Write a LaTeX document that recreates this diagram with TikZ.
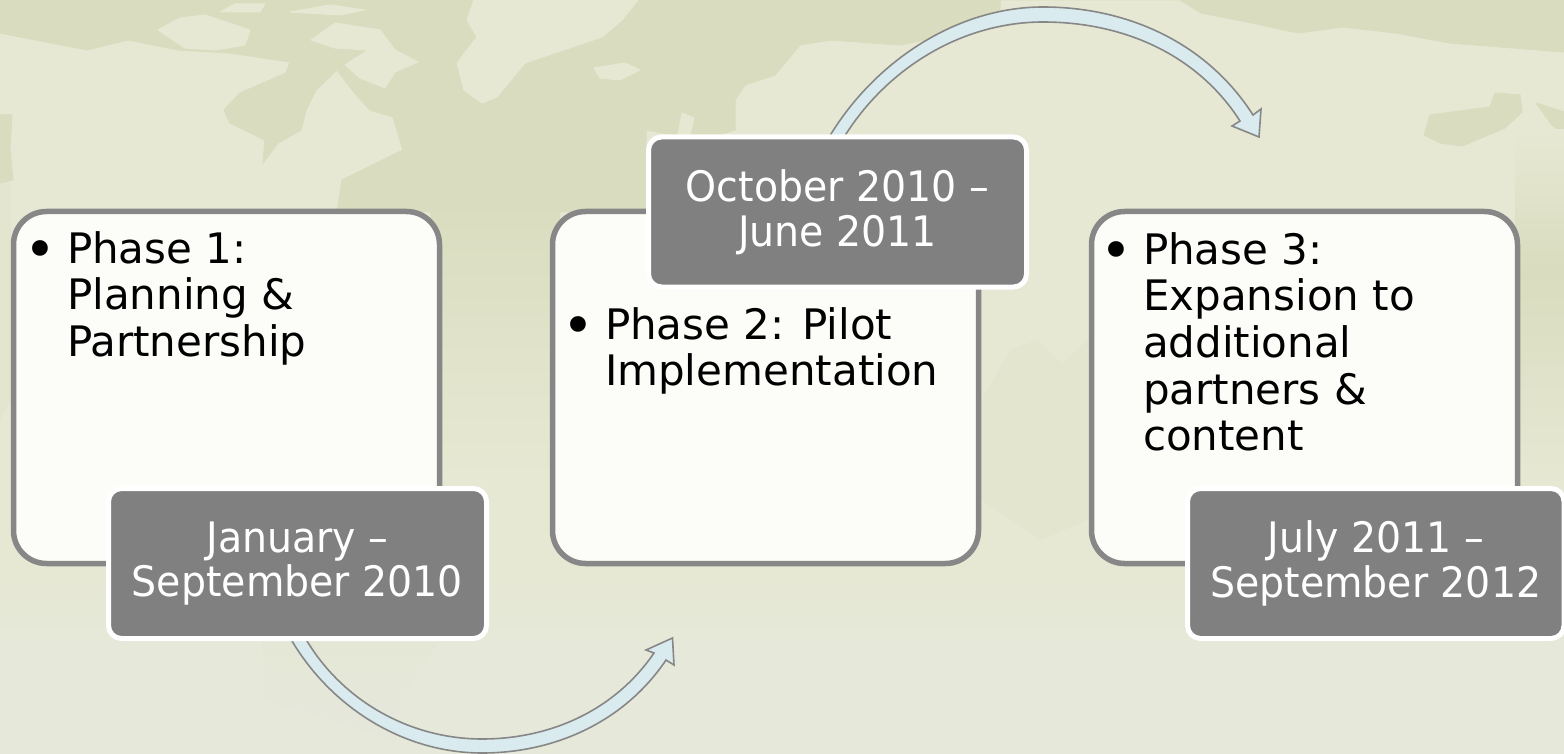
\documentclass[tikz,border=0pt]{standalone}
\usepackage{fontspec}
\setmainfont{DejaVu Sans}
\newfontfamily\datefont[FakeStretch=0.94]{DejaVu Sans}
\definecolor{landc}{HTML}{E6E8D3}
\definecolor{seac}{HTML}{DADCBF}
\definecolor{midc}{HTML}{E1E3CA}
\definecolor{palec}{HTML}{EDEFE2}
\definecolor{boxline}{HTML}{878787}
\definecolor{boxfill}{HTML}{FCFCF9}
\definecolor{dategrey}{HTML}{808080}
\definecolor{arrowfill}{HTML}{D9EBEE}
\tikzset{
  phasebox/.style={draw=boxline,line width=5.5pt,fill=boxfill,rounded corners=33pt,
    minimum width=426pt,minimum height=352pt,inner sep=0pt,outer sep=0pt},
  datebox/.style={draw=white,line width=5pt,fill=dategrey,rounded corners=13pt,
    minimum width=378pt,minimum height=150pt,inner sep=0pt,outer sep=0pt,
    text=white,align=center,font=\datefont\fontsize{42}{44.5}\selectfont},
  phasetext/.style={anchor=north west,inner sep=0pt,outer sep=0pt,align=left,text=black,
    font=\fontsize{42}{46.7}\selectfont},
  curvedarrow/.style={draw=boxline,line width=1.6pt,fill=arrowfill,line join=miter},
  seapatch/.style={fill=seac,draw=seac,line width=1pt,line join=round},
  midpatch/.style={fill=midc,opacity=0.55},
  landpatch/.style={fill=landc,draw=landc,line width=1pt,line join=round}
}
\newcommand{\bul}{\llap{\raisebox{-5.5pt}{\fontsize{54}{54}\selectfont •}\hspace{11pt}}\rule{0pt}{32pt}}
\begin{document}
\begin{tikzpicture}[x=1pt,y=-1pt]
\useasboundingbox (0,0) rectangle (1564,754);
% map backdrop
\fill[landc] (0,0) rectangle (1564,754);
% the Atlantic fades out southwards, between the boxes
\shade[top color=seac,bottom color=landc] (430,190) rectangle (560,480);
\fill[seapatch] (0,0) -- (0,33) -- (87,50) -- (128,40) -- (178,50) -- (230,53) -- (290,62) -- (286,73)
  -- (240,93) -- (224,110) -- (230,123) -- (265,140) -- (263,163) -- (278,143) -- (301,130) -- (306,110)
  -- (316,90) -- (337,70) -- (352,90) -- (370,110) -- (393,117) -- (403,150) -- (342,180) -- (337,212)
  -- (646,212) -- (646,130) -- (700,140) -- (735,130) -- (735,100) -- (745,85)
  -- (775,75) -- (800,45) -- (830,40) -- (900,45) -- (950,35) -- (1030,22) -- (1000,12) -- (1000,0) -- cycle;
\fill[seapatch] (1000,0) -- (1180,0) -- (1201,13) -- (1252,23) -- (1298,33) -- (1342,27) -- (1396,33)
  -- (1450,43) -- (1564,52) -- (1564,0) -- cycle;
% pale islands and land over the dark sea
\fill[landpatch] (158,30) -- (180,18) -- (205,15) -- (250,30) -- (245,45) -- (215,50) -- (185,48) -- cycle;
\fill[landpatch] (220,12) -- (235,4) -- (265,4) -- (260,12) -- cycle;
\fill[landpatch] (290,12) -- (330,5) -- (365,10) -- (340,15) -- cycle;
\fill[landpatch] (311,40) -- (335,23) -- (380,30) -- (395,50) -- (418,62) -- (395,72) -- (385,88) -- (360,78) -- (345,65) -- (368,50) -- (335,48) -- cycle;
\fill[landpatch] (474,0) -- (638,0) -- (622,20) -- (602,37) -- (525,63) -- (497,97) -- (482,103) -- (464,90) -- (457,63) -- (477,37) -- (467,20) -- cycle;
\fill[landpatch] (594,68) -- (625,63) -- (640,70) -- (620,80) -- (600,78) -- cycle;
\fill[landpatch] (678,135) -- (682,113) -- (694,118) -- (690,135) -- cycle;
% soft tints
\fill[midpatch] (260,566) -- (440,566) -- (440,640) -- (400,700) -- (395,740) -- (265,700) -- cycle;
\fill[midpatch] (982,400) -- (1010,350) -- (1037,340) -- (1062,363) -- (1088,340) -- (1088,520) -- (1040,540) -- (982,500) -- cycle;
\fill[seapatch] (1424,135) -- (1430,115) -- (1490,107) -- (1495,93) -- (1520,95) -- (1522,112) -- (1505,128) -- (1462,146) -- (1440,143) -- cycle;
\fill[seapatch] (1536,103) -- (1564,112) -- (1564,135) -- (1552,125) -- cycle;
\shade[top color=landc,bottom color=seac] (1515,130) rectangle (1564,270);
\shade[top color=seac,bottom color=landc] (1515,270) rectangle (1564,490);
\fill[seapatch] (0,115) -- (12,115) -- (10,150) -- (13,180) -- (0,183) -- cycle;
\fill[midpatch] (0,183) -- (11,183) -- (11,400) -- (0,420) -- cycle;
% pale fade towards the bottom edge
\foreach \k in {0,...,11} {\fill[palec,opacity=0.12] (0,{566+\k*15}) rectangle (1564,754);}
% curved arrows
\coordinate (a1os) at (289,636); \coordinate (a1is) at (304,636);
\coordinate (a1ob) at (292,641); \coordinate (a1ib) at (307,641);
\coordinate (a1ol) at (482,753); \coordinate (a1il) at (482,739);
\coordinate (a1oj) at (666,660); \coordinate (a1ij) at (654,653);
\coordinate (a1oc) at (674,665); \coordinate (a1ic) at (646,650);
\coordinate (a1tip) at (672.5,638);
\draw[curvedarrow] (a1os) -- (a1ob) .. controls (332,708) and (404,753) .. (a1ol)
  .. controls (556,753) and (625,721) .. (a1oj) -- (a1oc) -- (a1tip) -- (a1ic) -- (a1ij)
  .. controls (615,710) and (551,739) .. (a1il) .. controls (411,739) and (344,702) .. (a1ib) -- (a1is) -- cycle;
\coordinate (a2os) at (828,139); \coordinate (a2is) at (843,139);
\coordinate (a2ob) at (831,134); \coordinate (a2ib) at (846,134);
\coordinate (a2ot) at (1043,7); \coordinate (a2it) at (1043,22);
\coordinate (a2oj) at (1253,115); \coordinate (a2ij) at (1240,121);
\coordinate (a2oc) at (1261,109); \coordinate (a2ic) at (1232,126);
\coordinate (a2tip) at (1259,137);
\draw[curvedarrow] (a2os) -- (a2ob) .. controls (876,61) and (957,7) .. (a2ot)
  .. controls (1128,7) and (1207,43) .. (a2oj) -- (a2oc) -- (a2tip) -- (a2ic) -- (a2ij)
  .. controls (1197,54) and (1123,22) .. (a2it) .. controls (963,22) and (889,67) .. (a2ib) -- (a2is) -- cycle;
% phase boxes
\node[phasebox] (p1) at (226.5,387.5) {};
\node[phasebox] (p2) at (765.5,387.5) {};
\node[phasebox] (p3) at (1304.5,387.5) {};
\node[phasetext] (t1) at (67,231) {\bul Phase 1:\\Planning \&\\Partnership};
\node[phasetext] (t2) at (605,307) {\bul Phase 2: Pilot\\Implementation};
\node[phasetext] (t3) at (1143,232) {\bul Phase 3:\\Expansion to\\additional\\partners \&\\content};
% date boxes
\node[datebox] (d1) at (297.5,563.5) {January –\\September 2010};
\node[datebox] (d2) at (837.5,212) {October 2010 –\\June 2011};
\node[datebox,minimum width=376.5pt] (d3) at (1375.75,563.5) {July 2011 –\\September 2012};
\end{tikzpicture}
\end{document}
